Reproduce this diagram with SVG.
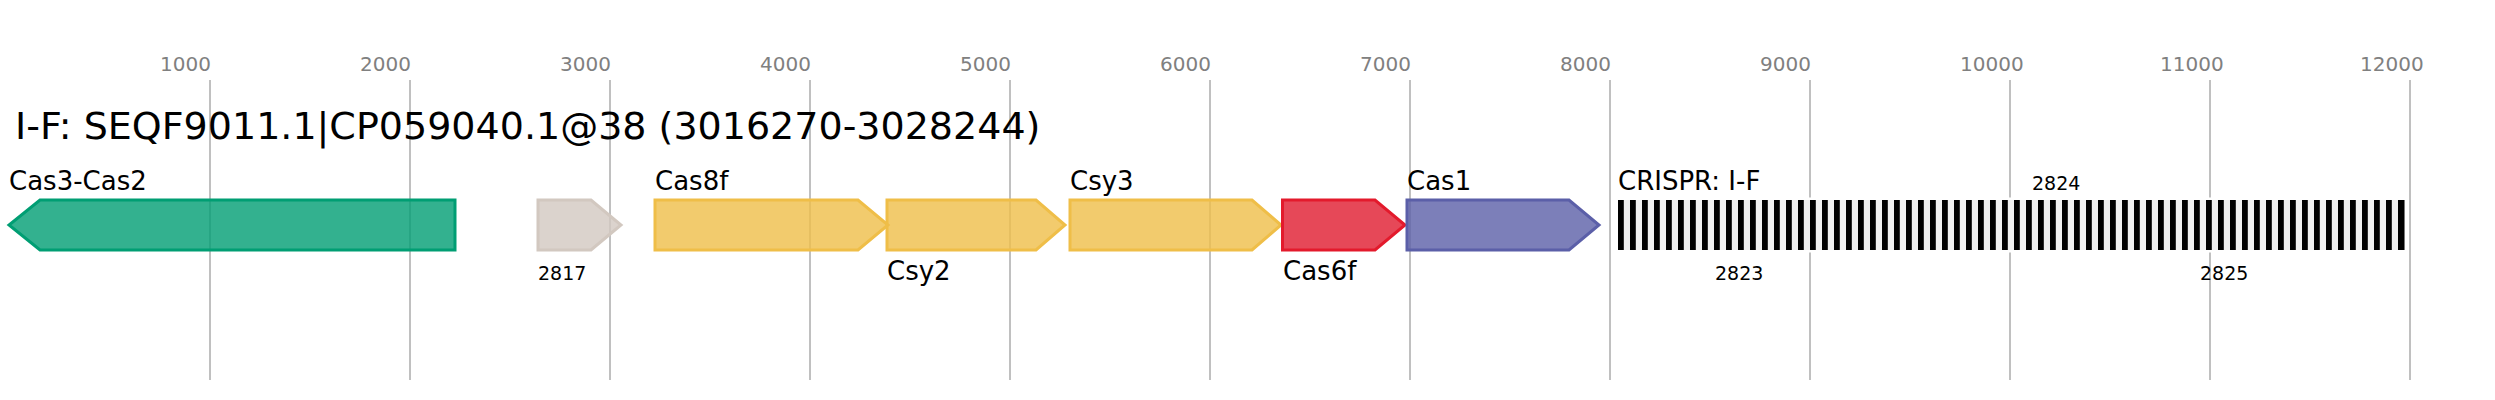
<svg xmlns="http://www.w3.org/2000/svg" width="2495" height="400" viewBox="0 0 2495 400">
<style>
text{font-family:"DejaVu Sans","Liberation Sans",sans-serif;}
.grid{stroke:#c0c0c0;stroke-width:2;}
.tick{font-size:20px;fill:#808080;}
.title{font-size:38px;fill:#000;}
.lbl{font-size:26px;fill:#000;}
.num{font-size:19px;fill:#000;}
.gene{stroke-width:3;fill-opacity:0.8;stroke-linejoin:miter;}
.bar{fill:#000;}
</style>
<rect width="2495" height="400" fill="#fff"/>
<g id="axis">
<line class="grid" x1="210" y1="80" x2="210" y2="380"/>
<line class="grid" x1="410" y1="80" x2="410" y2="380"/>
<line class="grid" x1="610" y1="80" x2="610" y2="380"/>
<line class="grid" x1="810" y1="80" x2="810" y2="380"/>
<line class="grid" x1="1010" y1="80" x2="1010" y2="380"/>
<line class="grid" x1="1210" y1="80" x2="1210" y2="380"/>
<line class="grid" x1="1410" y1="80" x2="1410" y2="380"/>
<line class="grid" x1="1610" y1="80" x2="1610" y2="380"/>
<line class="grid" x1="1810" y1="80" x2="1810" y2="380"/>
<line class="grid" x1="2010" y1="80" x2="2010" y2="380"/>
<line class="grid" x1="2210" y1="80" x2="2210" y2="380"/>
<line class="grid" x1="2410" y1="80" x2="2410" y2="380"/>
<text class="tick" x="160" y="71">1000</text>
<text class="tick" x="360" y="71">2000</text>
<text class="tick" x="560" y="71">3000</text>
<text class="tick" x="760" y="71">4000</text>
<text class="tick" x="960" y="71">5000</text>
<text class="tick" x="1160" y="71">6000</text>
<text class="tick" x="1360" y="71">7000</text>
<text class="tick" x="1560" y="71">8000</text>
<text class="tick" x="1760" y="71">9000</text>
<text class="tick" x="1960" y="71">10000</text>
<text class="tick" x="2160" y="71">11000</text>
<text class="tick" x="2360" y="71">12000</text>
</g>
<text class="title" x="15" y="139">I-F: SEQF9011.1|CP059040.1@38 (3016270-3028244)</text>
<g id="cas3-cas2">
<path class="gene" d="M455,200 L40,200 L9,225 L40,250 L455,250 Z" fill="#009e73" stroke="#009e73"/>
<text class="lbl" x="9" y="190">Cas3-Cas2</text>
</g>
<g id="gene-2817">
<path class="gene" d="M538,200 L591,200 L621,225 L591,250 L538,250 Z" fill="#d2c8c0" stroke="#d2c8c0"/>
<text class="num" x="538" y="280">2817</text>
</g>
<g id="cas8f">
<path class="gene" d="M655,200 L858,200 L888,225 L858,250 L655,250 Z" fill="#efbe48" stroke="#efbe48"/>
<text class="lbl" x="655" y="190">Cas8f</text>
</g>
<g id="csy2">
<path class="gene" d="M887,200 L1036,200 L1065,225 L1036,250 L887,250 Z" fill="#efbe48" stroke="#efbe48"/>
<text class="lbl" x="887" y="280">Csy2</text>
</g>
<g id="csy3">
<path class="gene" d="M1070,200 L1252,200 L1281,225 L1252,250 L1070,250 Z" fill="#efbe48" stroke="#efbe48"/>
<text class="lbl" x="1070" y="190">Csy3</text>
</g>
<g id="cas6f">
<path class="gene" d="M1282.5,200 L1375,200 L1405,225 L1375,250 L1282.5,250 Z" fill="#e01a2e" stroke="#e31a2c"/>
<text class="lbl" x="1283" y="280">Cas6f</text>
</g>
<g id="cas1">
<path class="gene" d="M1407,200 L1569,200 L1599,225 L1569,250 L1407,250 Z" fill="#5b5fa8" stroke="#5b5fa8"/>
<text class="lbl" x="1407" y="190">Cas1</text>
</g>
<g id="crispr">
<rect x="1616" y="197.5" width="791" height="55" fill="#fff"/>
<rect x="1618" y="200" width="787" height="50" fill="#f0f0f0"/>
<g class="bar">
<rect x="1618" y="200" width="5.8" height="50"/><rect x="1630" y="200" width="5.8" height="50"/><rect x="1642" y="200" width="5.8" height="50"/><rect x="1654" y="200" width="5.8" height="50"/><rect x="1666" y="200" width="5.8" height="50"/><rect x="1678" y="200" width="5.8" height="50"/><rect x="1690" y="200" width="5.8" height="50"/><rect x="1702" y="200" width="5.8" height="50"/><rect x="1714" y="200" width="5.8" height="50"/><rect x="1726" y="200" width="5.8" height="50"/>
<rect x="1738" y="200" width="5.8" height="50"/><rect x="1750" y="200" width="5.8" height="50"/><rect x="1762" y="200" width="5.8" height="50"/><rect x="1774" y="200" width="5.8" height="50"/><rect x="1786" y="200" width="5.8" height="50"/><rect x="1798" y="200" width="5.8" height="50"/><rect x="1810" y="200" width="5.8" height="50"/><rect x="1822" y="200" width="5.8" height="50"/><rect x="1834" y="200" width="5.8" height="50"/><rect x="1846" y="200" width="5.8" height="50"/>
<rect x="1858" y="200" width="5.8" height="50"/><rect x="1870" y="200" width="5.8" height="50"/><rect x="1882" y="200" width="5.8" height="50"/><rect x="1894" y="200" width="5.8" height="50"/><rect x="1906" y="200" width="5.8" height="50"/><rect x="1918" y="200" width="5.8" height="50"/><rect x="1930" y="200" width="5.8" height="50"/><rect x="1942" y="200" width="5.8" height="50"/><rect x="1954" y="200" width="5.8" height="50"/><rect x="1966" y="200" width="5.8" height="50"/>
<rect x="1978" y="200" width="5.8" height="50"/><rect x="1990" y="200" width="5.8" height="50"/><rect x="2002" y="200" width="5.8" height="50"/><rect x="2014" y="200" width="5.8" height="50"/><rect x="2026" y="200" width="5.8" height="50"/><rect x="2038" y="200" width="5.8" height="50"/><rect x="2050" y="200" width="5.8" height="50"/><rect x="2062" y="200" width="5.8" height="50"/><rect x="2074" y="200" width="5.8" height="50"/><rect x="2086" y="200" width="5.8" height="50"/>
<rect x="2098" y="200" width="5.8" height="50"/><rect x="2110" y="200" width="5.8" height="50"/><rect x="2122" y="200" width="5.8" height="50"/><rect x="2134" y="200" width="5.8" height="50"/><rect x="2146" y="200" width="5.8" height="50"/><rect x="2158" y="200" width="5.8" height="50"/><rect x="2170" y="200" width="5.8" height="50"/><rect x="2182" y="200" width="5.8" height="50"/><rect x="2194" y="200" width="5.8" height="50"/><rect x="2206" y="200" width="5.8" height="50"/>
<rect x="2218" y="200" width="5.8" height="50"/><rect x="2230" y="200" width="5.8" height="50"/><rect x="2242" y="200" width="5.8" height="50"/><rect x="2254" y="200" width="5.8" height="50"/><rect x="2266" y="200" width="5.8" height="50"/><rect x="2278" y="200" width="5.8" height="50"/><rect x="2290" y="200" width="5.8" height="50"/><rect x="2302" y="200" width="5.8" height="50"/><rect x="2314" y="200" width="5.8" height="50"/><rect x="2326" y="200" width="5.8" height="50"/>
<rect x="2338" y="200" width="5.8" height="50"/><rect x="2350" y="200" width="5.8" height="50"/><rect x="2362" y="200" width="5.8" height="50"/><rect x="2374" y="200" width="5.8" height="50"/><rect x="2386" y="200" width="5.8" height="50"/><rect x="2398" y="200" width="6.5" height="50"/>
</g>
<text class="lbl" x="1618" y="190">CRISPR: I-F</text>
<text class="num" x="1715" y="280">2823</text>
<text class="num" x="2032" y="190">2824</text>
<text class="num" x="2200" y="280">2825</text>
</g>
</svg>
